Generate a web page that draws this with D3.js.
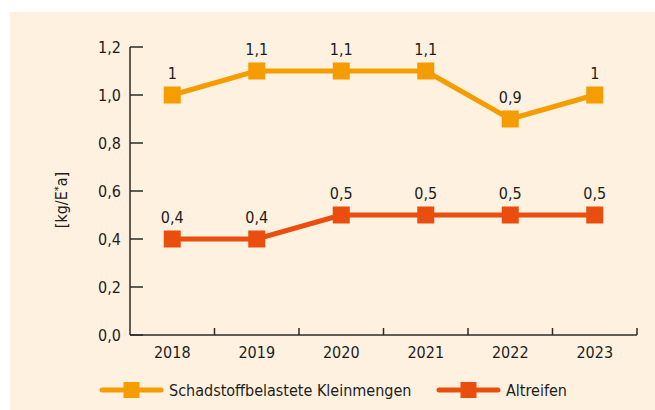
<!DOCTYPE html>
<html>
<head>
<meta charset="utf-8">
<script src="https://cdn.jsdelivr.net/npm/d3@7"></script>
<style>
  body { margin: 0; background: #fff; }
  svg { display: block; }
  text { font-family: "DejaVu Sans Condensed", "Liberation Sans Narrow", sans-serif; fill: #1d1d1b; }
</style>
</head>
<body>
<svg id="chart" width="655" height="410"></svg>
<script>
const years = ['2018', '2019', '2020', '2021', '2022', '2023'];
const kleinmengen = [1.0, 1.1, 1.1, 1.1, 0.9, 1.0];
const altreifen = [0.4, 0.4, 0.5, 0.5, 0.5, 0.5];
const yTicks = [0, 0.2, 0.4, 0.6, 0.8, 1.0, 1.2];

const series = [
  { name: 'Schadstoffbelastete Kleinmengen', values: kleinmengen, color: '#f59c00' },
  { name: 'Altreifen', values: altreifen, color: '#e94e0f' },
];

const svg = d3.select('#chart');
const axisColor = '#2b2a29';
const fs = 16;
const fmt = v => d3.format('.1f')(v).replace('.', ',');
const fmtLabel = v => String(v).replace('.', ',');

svg.append('rect')
  .attr('x', 10).attr('y', 12)
  .attr('width', 645).attr('height', 398)
  .attr('fill', '#fef1e0');

const x = d3.scaleBand().domain(years).range([130, 637]);
const y = d3.scaleLinear().domain([0, 1.2]).range([335, 47]);
const cx = d => x(d) + x.bandwidth() / 2;

// y axis
const yAxis = svg.append('g');
yAxis.append('line')
  .attr('x1', 130).attr('x2', 130)
  .attr('y1', y(1.2)).attr('y2', y(0))
  .attr('stroke', axisColor).attr('stroke-width', 1.5);
yAxis.selectAll('line.tick')
  .data(yTicks)
  .join('line')
  .attr('class', 'tick')
  .attr('x1', 130).attr('x2', 143)
  .attr('y1', d => y(d)).attr('y2', d => y(d))
  .attr('stroke', axisColor).attr('stroke-width', 1.5);
yAxis.selectAll('text')
  .data(yTicks)
  .join('text')
  .attr('x', 121)
  .attr('y', d => y(d))
  .attr('dy', '0.36em')
  .attr('text-anchor', 'end')
  .attr('font-size', fs)
  .text(fmt);

// x axis
const xAxis = svg.append('g');
xAxis.append('line')
  .attr('x1', 130).attr('x2', 637)
  .attr('y1', y(0)).attr('y2', y(0))
  .attr('stroke', axisColor).attr('stroke-width', 1.5);
xAxis.selectAll('line.tick')
  .data(years)
  .join('line')
  .attr('class', 'tick')
  .attr('x1', d => x(d) + x.bandwidth()).attr('x2', d => x(d) + x.bandwidth())
  .attr('y1', y(0)).attr('y2', y(0) - 7)
  .attr('stroke', axisColor).attr('stroke-width', 1.5);
xAxis.selectAll('text')
  .data(years)
  .join('text')
  .attr('x', cx)
  .attr('y', 358)
  .attr('text-anchor', 'middle')
  .attr('font-size', fs)
  .text(d => d);

const yLabel = svg.append('text')
  .attr('transform', 'translate(67,200) rotate(-90)')
  .attr('text-anchor', 'middle')
  .attr('font-size', fs);
yLabel.append('tspan').text('[kg/E');
yLabel.append('tspan').attr('font-size', 11).attr('dy', -5).text('*');
yLabel.append('tspan').attr('dy', 5).text('a]');

// series
const line = d3.line().x((d, i) => cx(years[i])).y(d => y(d));
series.forEach(s => {
  const g = svg.append('g');
  g.append('path')
    .datum(s.values)
    .attr('d', line)
    .attr('fill', 'none')
    .attr('stroke', s.color)
    .attr('stroke-width', 5);
  g.selectAll('rect')
    .data(s.values)
    .join('rect')
    .attr('x', (d, i) => cx(years[i]) - 8.5)
    .attr('y', d => y(d) - 8.5)
    .attr('width', 17).attr('height', 17)
    .attr('fill', s.color);
  g.selectAll('text')
    .data(s.values)
    .join('text')
    .attr('x', (d, i) => cx(years[i]))
    .attr('y', d => y(d) - 16)
    .attr('text-anchor', 'middle')
    .attr('font-size', fs)
    .text(fmtLabel);
});

// legend
const legendX = [100, 437];
series.forEach((s, i) => {
  const g = svg.append('g').attr('transform', `translate(${legendX[i]},390)`);
  g.append('line')
    .attr('x1', 2).attr('x2', 61)
    .attr('stroke', s.color).attr('stroke-width', 5)
    .attr('stroke-linecap', 'round');
  g.append('rect')
    .attr('x', 23.5).attr('y', -8)
    .attr('width', 16).attr('height', 16)
    .attr('fill', s.color);
  g.append('text')
    .attr('x', 69)
    .attr('dy', '0.36em')
    .attr('font-size', fs)
    .text(s.name);
});
</script>
</body>
</html>
